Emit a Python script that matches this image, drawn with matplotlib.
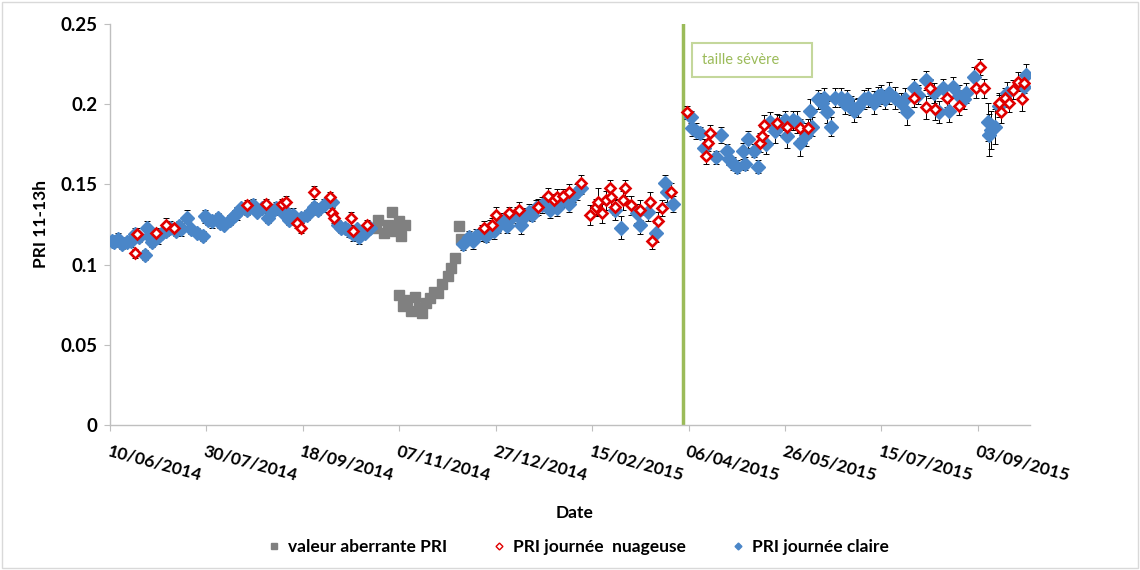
import numpy as np
import pandas as pd
import matplotlib
matplotlib.use("Agg")
import matplotlib.pyplot as plt
from matplotlib.lines import Line2D
from matplotlib.patches import Rectangle

plt.rcParams['font.family'] = ['Lato', 'DejaVu Sans']

# day numbers counted from 10/06/2014
START = np.datetime64('2014-06-10')

grey_day = [138, 139, 142, 144, 146, 148, 150, 151, 153,
            150, 152, 154, 156, 158, 160, 162, 164, 166, 168,
            170, 172, 175, 177, 179, 181, 182]
grey_pri = [0.123, 0.128, 0.120, 0.125, 0.133, 0.121, 0.127, 0.118, 0.125,
            0.081, 0.074, 0.078, 0.071, 0.080, 0.073, 0.070, 0.076, 0.079, 0.083,
            0.082, 0.088, 0.093, 0.098, 0.104, 0.124, 0.116]

# clear days
clear_day = [1, 2, 4, 6, 9, 11, 13, 15, 18, 19,
             20, 22, 25, 27, 29, 31, 34, 36, 37, 40,
             42, 45, 48, 49, 51, 53, 56, 57, 59, 62,
             65, 66, 68, 71, 74, 76, 79, 82, 84, 86,
             89, 92, 93, 95, 99, 102, 106, 108, 111, 115,
             118, 120, 122, 124, 126, 128, 129, 132, 135,
             183, 186, 188, 190, 193, 195, 197, 199, 201, 204,
             206, 208, 211, 213, 215, 217, 219, 221, 224, 226,
             228, 230, 232, 235, 238, 240, 242, 244, 262, 265,
             273, 275, 279, 283, 288, 289, 292,
             301, 302, 304, 306, 308, 314, 317, 320, 321, 323,
             325, 328, 329, 331, 334, 336, 340, 342, 345, 347,
             350, 351, 354, 356, 358, 361, 363, 364, 367, 369,
             370, 372, 374, 376, 379, 381, 382, 384, 386, 388,
             391, 393, 396, 398, 400, 402, 404, 407, 410, 412,
             413, 417, 419, 423, 427, 430, 432, 435, 437, 440,
             443, 444, 448, 455, 456, 457, 459, 461, 465, 474,
             475]
clear_pri = [0.115, 0.114, 0.116, 0.113, 0.114, 0.115, 0.119, 0.117, 0.106, 0.123,
             0.118, 0.114, 0.117, 0.120, 0.121, 0.123, 0.121, 0.124, 0.122, 0.129,
             0.122, 0.120, 0.118, 0.130, 0.128, 0.127, 0.129, 0.126, 0.125, 0.128,
             0.131, 0.132, 0.135, 0.134, 0.137, 0.133, 0.135, 0.129, 0.133, 0.135,
             0.133, 0.132, 0.128, 0.131, 0.129, 0.131, 0.136, 0.134, 0.137, 0.139,
             0.125, 0.123, 0.123, 0.121, 0.119, 0.122, 0.117, 0.120, 0.123,
             0.113, 0.117, 0.115, 0.118, 0.120, 0.118, 0.123, 0.121, 0.124, 0.127,
             0.124, 0.129, 0.131, 0.125, 0.130, 0.133, 0.131, 0.135, 0.137, 0.139,
             0.134, 0.137, 0.135, 0.140, 0.138, 0.143, 0.145, 0.148, 0.134, 0.123,
             0.132, 0.125, 0.133, 0.120, 0.151, 0.145, 0.138,
             0.192, 0.185, 0.183, 0.182, 0.173, 0.167, 0.181, 0.171, 0.166, 0.163,
             0.161, 0.171, 0.163, 0.178, 0.171, 0.161, 0.175, 0.189, 0.183, 0.187,
             0.190, 0.180, 0.190, 0.189, 0.176, 0.181, 0.196, 0.186, 0.203, 0.201,
             0.204, 0.195, 0.186, 0.204, 0.204, 0.200, 0.203, 0.199, 0.196, 0.198,
             0.203, 0.204, 0.201, 0.205, 0.206, 0.203, 0.207, 0.204, 0.201, 0.203,
             0.195, 0.210, 0.206, 0.215, 0.207, 0.195, 0.210, 0.196, 0.211, 0.205,
             0.203, 0.207, 0.217, 0.189, 0.181, 0.184, 0.186, 0.199, 0.207, 0.211,
             0.218]
clear_err = [0.003, 0.003, 0.004, 0.003, 0.003, 0.004, 0.004, 0.003, 0.003, 0.004,
             0.003, 0.003, 0.004, 0.003, 0.003, 0.004, 0.003, 0.003, 0.004, 0.005,
             0.003, 0.003, 0.003, 0.004, 0.003, 0.004, 0.003, 0.003, 0.003, 0.003,
             0.003, 0.004, 0.003, 0.003, 0.004, 0.003, 0.003, 0.003, 0.003, 0.004,
             0.003, 0.003, 0.003, 0.004, 0.003, 0.003, 0.003, 0.003, 0.004, 0.003,
             0.003, 0.003, 0.003, 0.004, 0.004, 0.003, 0.004, 0.003, 0.003,
             0.004, 0.004, 0.005, 0.004, 0.005, 0.004, 0.005, 0.005, 0.004, 0.005,
             0.004, 0.005, 0.005, 0.006, 0.005, 0.005, 0.004, 0.005, 0.005, 0.004,
             0.005, 0.004, 0.005, 0.004, 0.005, 0.004, 0.005, 0.004, 0.006, 0.007,
             0.006, 0.006, 0.006, 0.006, 0.005, 0.006, 0.005,
             0.004, 0.005, 0.005, 0.004, 0.005, 0.004, 0.005, 0.004, 0.004, 0.004,
             0.004, 0.005, 0.004, 0.005, 0.004, 0.004, 0.006, 0.006, 0.007, 0.006,
             0.006, 0.007, 0.006, 0.007, 0.008, 0.007, 0.007, 0.006, 0.006, 0.006,
             0.006, 0.007, 0.006, 0.006, 0.006, 0.006, 0.006, 0.006, 0.007, 0.006,
             0.006, 0.006, 0.007, 0.006, 0.006, 0.006, 0.007, 0.007, 0.006, 0.007,
             0.008, 0.006, 0.006, 0.006, 0.006, 0.007, 0.006, 0.007, 0.006, 0.007,
             0.006, 0.006, 0.006, 0.012, 0.013, 0.012, 0.011, 0.007, 0.007, 0.007,
             0.007]

# cloudy days
cloudy_day = [13, 14, 24, 29, 33, 71, 81, 89, 91, 97,
              99, 106, 114, 115, 116, 125, 126, 133,
              194, 198, 200, 207, 212, 222, 227, 230, 232, 235,
              238, 244, 249, 252, 253, 255, 257, 259, 260, 262,
              266, 267, 270, 275, 280, 281, 284, 286, 291,
              299, 309, 310, 311, 337, 338, 339, 346, 351, 358,
              362, 417, 423, 425, 428, 434, 440, 449, 451, 453,
              461, 462, 464, 466, 468, 471, 473, 474]
cloudy_pri = [0.107, 0.119, 0.120, 0.125, 0.123, 0.137, 0.138, 0.138, 0.139, 0.126,
              0.123, 0.145, 0.142, 0.132, 0.129, 0.129, 0.121, 0.125,
              0.123, 0.125, 0.131, 0.132, 0.134, 0.136, 0.143, 0.140, 0.142, 0.143,
              0.145, 0.151, 0.131, 0.136, 0.139, 0.132, 0.140, 0.148, 0.142, 0.136,
              0.140, 0.148, 0.137, 0.134, 0.139, 0.115, 0.127, 0.135, 0.145,
              0.195, 0.168, 0.176, 0.182, 0.176, 0.180, 0.187, 0.188, 0.186, 0.185,
              0.185, 0.204, 0.198, 0.210, 0.197, 0.204, 0.199, 0.210, 0.223, 0.210,
              0.201, 0.195, 0.204, 0.201, 0.209, 0.214, 0.203, 0.213]
cloudy_err = [0.003, 0.004, 0.003, 0.004, 0.003, 0.003, 0.003, 0.003, 0.004, 0.003,
              0.003, 0.004, 0.003, 0.003, 0.003, 0.004, 0.003, 0.003,
              0.004, 0.004, 0.005, 0.004, 0.005, 0.005, 0.005, 0.004, 0.005, 0.004,
              0.005, 0.005, 0.006, 0.005, 0.009, 0.006, 0.006, 0.005, 0.006, 0.005,
              0.006, 0.005, 0.006, 0.006, 0.006, 0.005, 0.006, 0.005, 0.006,
              0.004, 0.005, 0.005, 0.005, 0.006, 0.006, 0.006, 0.006, 0.006, 0.006,
              0.006, 0.006, 0.007, 0.006, 0.007, 0.006, 0.006, 0.006, 0.005, 0.006,
              0.006, 0.007, 0.006, 0.006, 0.006, 0.006, 0.007, 0.006]

tick_labels = ['10/06/2014', '30/07/2014', '18/09/2014', '07/11/2014', '27/12/2014',
               '15/02/2015', '06/04/2015', '26/05/2015', '15/07/2015', '03/09/2015']
y_ticks = [0, 0.05, 0.1, 0.15, 0.2, 0.25]
y_labels = ['0', '0.05', '0.1', '0.15', '0.2', '0.25']
pruning_date = np.datetime64('2015-04-03')


def to_dates(days):
    return START + np.array(days, dtype='timedelta64[D]')


fig, ax = plt.subplots(figsize=(11.4, 5.7), dpi=100)
fig.subplots_adjust(left=110/1140, right=1030/1140, bottom=1-425/570, top=1-24/570)

BLUE = '#4a86c8'
RED = '#e00000'
GREY = '#808080'

ax.plot(to_dates(grey_day), grey_pri, ls='none', marker='s', ms=7.5,
        color=GREY, zorder=3)

ax.errorbar(to_dates(clear_day), clear_pri, yerr=clear_err, fmt='none',
            ecolor='black', elinewidth=0.7, capsize=2.5, capthick=0.7, zorder=2)
ax.plot(to_dates(clear_day), clear_pri, ls='none', marker='D', ms=6.8,
        mfc=BLUE, mec=BLUE, zorder=3)

ax.errorbar(to_dates(cloudy_day), cloudy_pri, yerr=cloudy_err, fmt='none',
            ecolor='black', elinewidth=0.7, capsize=2.5, capthick=0.7, zorder=2)
ax.plot(to_dates(cloudy_day), cloudy_pri, ls='none', marker='D', ms=5.0,
        mfc='white', mec=RED, mew=1.9, zorder=4)

# severe pruning
ax.axvline(pruning_date, color='#9bbb59', lw=2.5, zorder=1)
ax.add_patch(Rectangle((0.633, 0.868), 0.130, 0.085, transform=ax.transAxes,
                       fill=True, fc='white', ec='#c4d79b', lw=1.5, zorder=5))
ax.text(0.643, 0.910, 'taille sévère', transform=ax.transAxes, color='#9bbb59',
        fontsize=10.5, va='center', ha='left', zorder=6)

ax.set_xlim(START, START + np.timedelta64(477, 'D'))
ax.set_ylim(0, 0.25)

tick_pos = pd.to_datetime(tick_labels, format='%d/%m/%Y')
ax.set_xticks(tick_pos)
ax.set_xticklabels(tick_labels, rotation=-15, ha='left', va='top',
                   rotation_mode='anchor', fontweight='bold', fontsize=12.5)
ax.set_yticks(y_ticks)
ax.set_yticklabels(y_labels, fontweight='bold', fontsize=13.5)
ax.tick_params(axis='x', direction='out', length=4, color='#bfbfbf', pad=9)
ax.tick_params(axis='y', direction='out', length=4, color='#bfbfbf', pad=5)

for side in ['top', 'right']:
    ax.spines[side].set_visible(False)
for side in ['left', 'bottom']:
    ax.spines[side].set_color('#bfbfbf')
    ax.spines[side].set_linewidth(1)

ax.set_ylabel('PRI 11-13h', fontweight='bold', fontsize=12.5)
ax.yaxis.set_label_coords(-0.066, 0.5)
ax.set_xlabel('Date', fontweight='bold', fontsize=12.5)
ax.xaxis.set_label_coords(0.505, -0.2)

handles = [
    Line2D([], [], ls='none', marker='s', ms=5, color=GREY),
    Line2D([], [], ls='none', marker='D', ms=3.5, mfc='white', mec=RED, mew=1),
    Line2D([], [], ls='none', marker='D', ms=3.5, mfc=BLUE, mec=BLUE),
]
names = ['valeur aberrante PRI', 'PRI journée  nuageuse', 'PRI journée claire']
fig.legend(handles, names, loc='center', bbox_to_anchor=(0.508, 1-547/570), ncol=3,
           frameon=False, columnspacing=2.7, handlelength=0.6, handletextpad=0.5,
           prop={'weight': 'bold', 'size': 12.5})

fig.patches.append(Rectangle((0.002, 0.004), 0.996, 0.992, transform=fig.transFigure,
                             fill=False, ec='#d9d9d9', lw=1))

fig.savefig('out.png', dpi=100)
